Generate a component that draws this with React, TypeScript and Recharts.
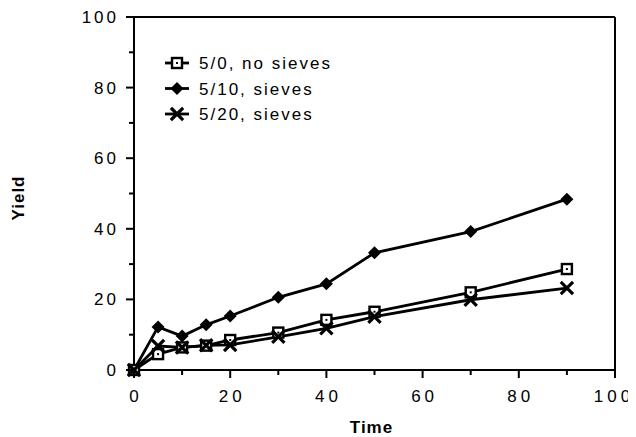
import React from "react";
import { LineChart, Line, XAxis, YAxis, ReferenceLine, Legend } from "recharts";

const times = [0, 5, 10, 15, 20, 30, 40, 50, 70, 90];
const noSieves = [0, 4.5, 6.4, 6.9, 8.5, 10.6, 14.2, 16.5, 22, 28.6];
const sieves10 = [0, 12.2, 9.6, 12.8, 15.3, 20.6, 24.4, 33.2, 39.2, 48.4];
const sieves20 = [0, 6.8, 6.4, 7, 7.1, 9.4, 11.8, 15.1, 19.9, 23.2];
const xTicks = [0, 10, 20, 30, 40, 50, 60, 70, 80, 90, 100];
const yTicks = [0, 10, 20, 30, 40, 50, 60, 70, 80, 90, 100];
const seriesNames = ["5/0, no sieves", "5/10, sieves", "5/20, sieves"];

const data = times.map((t, i) => ({
  t,
  a: noSieves[i],
  b: sieves10[i],
  c: sieves20[i],
}));

const FONT = '"Liberation Sans", Arial, Helvetica, sans-serif';

const Square = ({ cx, cy }: { cx: number; cy: number }) => (
  <g>
    <rect x={cx - 5} y={cy - 5} width={10} height={10} fill="#fff" stroke="#000" strokeWidth={2.4} />
    <rect x={cx - 1} y={cy - 1} width={2} height={2} fill="#000" />
  </g>
);
const Diamond = ({ cx, cy }: { cx: number; cy: number }) => (
  <path d={`M${cx},${cy - 6.5}L${cx + 6.5},${cy}L${cx},${cy + 6.5}L${cx - 6.5},${cy}Z`} fill="#000" />
);
const Cross = ({ cx, cy }: { cx: number; cy: number }) => (
  <g stroke="#000" strokeWidth={3.2} strokeLinecap="square">
    <line x1={cx - 5} y1={cy - 5} x2={cx + 5} y2={cy + 5} />
    <line x1={cx - 5} y1={cy + 5} x2={cx + 5} y2={cy - 5} />
  </g>
);

const mkDot = (Comp: any) => (props: any) => {
  const { cx, cy, index } = props;
  if (cx == null || cy == null) return <g key={`d${index}`} />;
  return (
    <g key={`d${index}`}>
      <Comp cx={cx} cy={cy} />
    </g>
  );
};

const XTick = (props: any) => {
  const { x, y, payload } = props;
  const v = payload.value;
  const major = v % 20 === 0;
  return (
    <g>
      <line x1={x} y1={y} x2={x} y2={y + (major ? 8 : 5)} stroke="#000" strokeWidth={2} />
      {major && (
        <text
          x={x}
          y={y + 32}
          dx={v === 100 ? -1 : 2}
          textAnchor="middle"
          fontFamily={FONT}
          fontSize={17}
          letterSpacing={4}
          fill="#000"
        >
          {v}
        </text>
      )}
    </g>
  );
};

const YTick = (props: any) => {
  const { x, y, payload } = props;
  const v = payload.value;
  const major = v % 20 === 0;
  return (
    <g>
      <line x1={x - (major ? 8 : 5)} y1={y} x2={x} y2={y} stroke="#000" strokeWidth={2} />
      {major && (
        <text
          x={x - 15}
          y={y + 6}
          textAnchor="end"
          fontFamily={FONT}
          fontSize={17}
          letterSpacing={3}
          fill="#000"
        >
          {v}
        </text>
      )}
    </g>
  );
};

const markers = [Square, Diamond, Cross];

const LegendContent = () => (
  <svg width={220} height={80} style={{ display: "block" }}>
    {seriesNames.map((name, i) => {
      const cy = 12 + i * 25.5;
      const M = markers[i];
      return (
        <g key={name}>
          <line x1={0} y1={cy} x2={24} y2={cy} stroke="#000" strokeWidth={2.8} />
          <M cx={12} cy={cy} />
          <text
            x={34}
            y={cy + 6}
            fontFamily={FONT}
            fontSize={17}
            letterSpacing={2}
            fill="#000"
          >
            {name}
          </text>
        </g>
      );
    })}
  </svg>
);

export default function App() {
  return (
    <div style={{ width: 628, height: 429, fontFamily: FONT }}>
      <LineChart
        width={628}
        height={429}
        data={data}
        margin={{ top: 9, right: 21, bottom: 37, left: 66 }}
      >
        <XAxis
          dataKey="t"
          type="number"
          domain={[0, 100]}
          ticks={xTicks}
          interval={0}
          tickSize={0}
          tickMargin={0}
          tickLine={false}
          tick={<XTick />}
          axisLine={{ stroke: "#000", strokeWidth: 2 }}
          height={30}
          label={(p: any) => {
            const vb = p.viewBox || { x: 126, y: 362, width: 481 };
            return (
              <text
                x={vb.x + vb.width / 2 - 3}
                y={vb.y + 63}
                textAnchor="middle"
                fontFamily={FONT}
                fontSize={17}
                fontWeight="bold"
                letterSpacing={1}
                fill="#000"
              >
                Time
              </text>
            );
          }}
        />
        <YAxis
          type="number"
          domain={[0, 100]}
          ticks={yTicks}
          interval={0}
          tickSize={0}
          tickMargin={0}
          tickLine={false}
          tick={<YTick />}
          axisLine={{ stroke: "#000", strokeWidth: 2 }}
          width={60}
          label={() => (
            <text
              x={10}
              y={190}
              textAnchor="middle"
              fontFamily={FONT}
              fontSize={17}
              fontWeight="bold"
              letterSpacing={1}
              fill="#000"
              transform="rotate(-90 10 190)"
              dominantBaseline="central"
            >
              Yield
            </text>
          )}
        />
        <ReferenceLine y={100} stroke="#000" strokeWidth={2} />
        <ReferenceLine x={100} stroke="#000" strokeWidth={2} />
        <Line
          dataKey="b"
          stroke="#000"
          strokeWidth={2.8}
          isAnimationActive={false}
          dot={mkDot(Diamond)}
          activeDot={false}
        />
        <Line
          dataKey="a"
          stroke="#000"
          strokeWidth={2.8}
          isAnimationActive={false}
          dot={mkDot(Square)}
          activeDot={false}
        />
        <Line
          dataKey="c"
          stroke="#000"
          strokeWidth={2.8}
          isAnimationActive={false}
          dot={mkDot(Cross)}
          activeDot={false}
        />
        <Legend
          layout="vertical"
          align="center"
          verticalAlign="middle"
          content={() => <LegendContent />}
          wrapperStyle={{ position: "absolute", top: 43, left: 157, width: 220, height: 80 }}
        />
      </LineChart>
    </div>
  );
}
